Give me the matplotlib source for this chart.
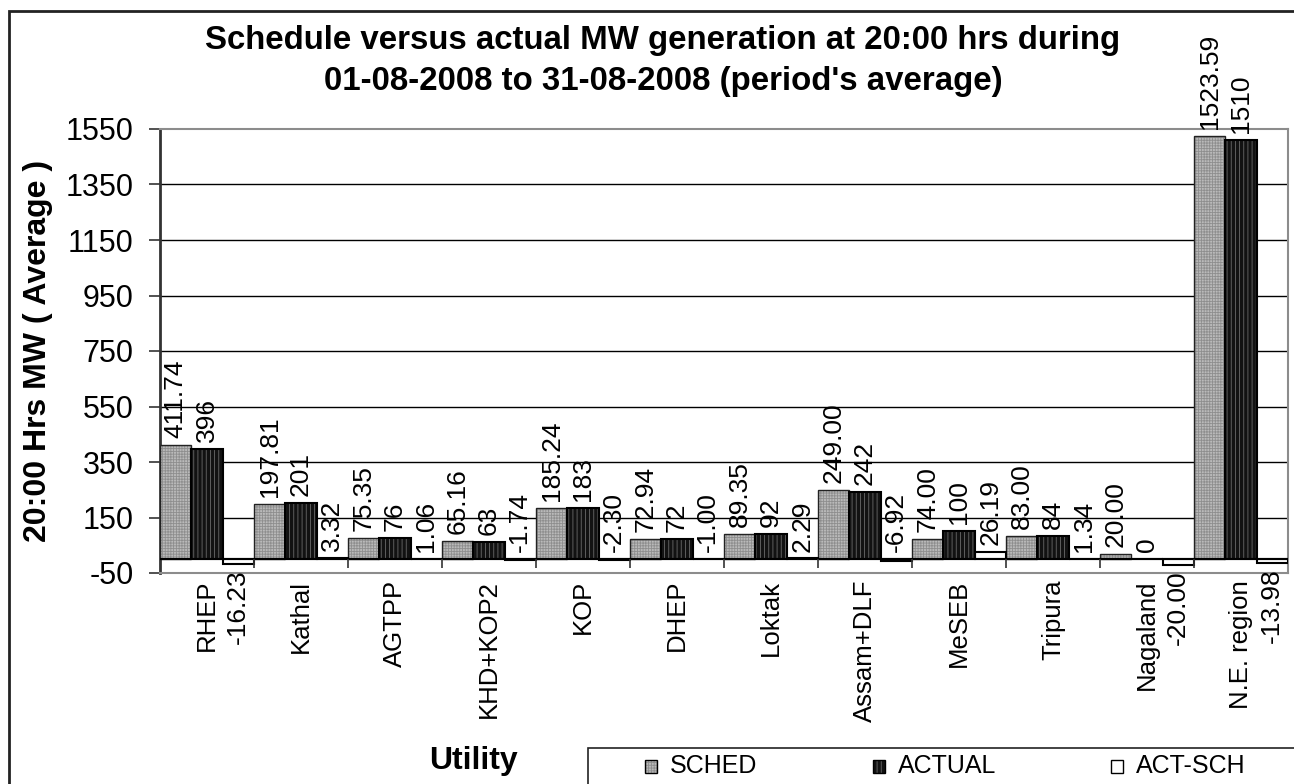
import numpy as np
import matplotlib
matplotlib.use("Agg")
import matplotlib.pyplot as plt
from matplotlib.patches import Rectangle

# ---------------------------------------------------------
# data
# ---------------------------------------------------------
CATEGORIES = ["RHEP", "Kathal", "AGTPP", "KHD+KOP2", "KOP", "DHEP", "Loktak",
              "Assam+DLF", "MeSEB", "Tripura", "Nagaland", "N.E. region"]
SCHED = [411.74, 197.81, 75.35, 65.16, 185.24, 72.94, 89.35, 249.00, 74.00, 83.00, 20.00, 1523.59]
ACTUAL = [396, 201, 76, 63, 183, 72, 92, 242, 100, 84, 0, 1510]
ACT_SCH = [-16.23, 3.32, 1.06, -1.74, -2.30, -1.00, 2.29, -6.92, 26.19, 1.34, -20.00, -13.98]
SERIES_NAMES = ["SCHED", "ACTUAL", "ACT-SCH"]
Y_TICKS = [-50, 150, 350, 550, 750, 950, 1150, 1350, 1550]

TITLE_1 = "Schedule versus actual MW generation at 20:00 hrs during"
TITLE_2 = "01-08-2008 to 31-08-2008 (period's average)"
Y_LABEL = "20:00 Hrs MW ( Average )"
X_LABEL = "Utility"

# ---------------------------------------------------------
# style
# ---------------------------------------------------------
plt.rcParams.update({
    "font.family": ["Liberation Sans", "DejaVu Sans"],
    "hatch.linewidth": 0.6,
    "axes.unicode_minus": False,
})

W, H = 1294, 784
STYLES = [
    dict(face="#bababa", hatch="++++++", hcolor="#8e8e8e", edge="#222222", lw=1.0),
    dict(face="#121212", hatch="||||", hcolor="#6a6a6a", edge="#000000", lw=1.5),
    dict(face="#ffffff", hatch=None, hcolor="#000000", edge="#000000", lw=1.5),
]
LABEL_SIZE = 19


def px(x, y):
    """pixel coords (top-left origin) -> figure fraction"""
    return x / W, 1 - y / H


def draw_bars(ax, x, vals, st):
    ax.bar(x, vals, width=1 / 3, color=st["face"], hatch=st["hatch"],
           edgecolor=st["hcolor"], linewidth=0, zorder=3)
    ax.bar(x, vals, width=1 / 3, fill=False, edgecolor=st["edge"],
           linewidth=st["lw"], zorder=4)


def label_bars(ax, x, vals, fmt):
    for xi, v in zip(x, vals):
        if v >= 0 or abs(v) < 10:
            ax.annotate(fmt.format(v), xy=(xi, max(v, 0)), xytext=(0, 5),
                        textcoords="offset points", rotation=90,
                        ha="center", va="bottom", fontsize=LABEL_SIZE, zorder=6)
        else:
            ax.annotate(fmt.format(v), xy=(xi, v), xytext=(0, -4),
                        textcoords="offset points", rotation=90,
                        ha="center", va="top", fontsize=LABEL_SIZE, zorder=6,
                        annotation_clip=False)


fig = plt.figure(figsize=(W / 100, H / 100), dpi=100)
l, b = px(160, 573)
r, t = px(1288, 129)
ax = fig.add_axes([l, b, r - l, t - b])

idx = np.arange(len(CATEGORIES))
offsets = [-1 / 3, 0, 1 / 3]
series = [SCHED, ACTUAL, ACT_SCH]
fmts = ["{:.2f}", "{:.0f}", "{:.2f}"]

for vals, off, st, fmt in zip(series, offsets, STYLES, fmts):
    draw_bars(ax, idx + off, vals, st)
    label_bars(ax, idx + off, vals, fmt)

ax.set_xlim(-0.5, len(CATEGORIES) - 0.5)
ax.set_ylim(-50, 1550)
ax.set_yticks(Y_TICKS)
ax.tick_params(axis="y", labelsize=22, length=8, width=1.2, pad=11, color="#333333")
ax.set_xticks(idx)
ax.set_xticklabels(CATEGORIES, rotation=90, fontsize=18.5)
ax.tick_params(axis="x", length=0, pad=5)

# gridlines + zero axis
for yv in Y_TICKS[1:-1]:
    ax.axhline(yv, color="black", lw=1.0, zorder=1)
ax.axhline(0, color="black", lw=1.5, zorder=5)
# category separators on the zero line
ax.vlines(idx[1:] - 0.5, -32, 0, color="#333333", lw=1.2, zorder=5)

for side in ["top", "right", "bottom"]:
    ax.spines[side].set_color("#8c8c8c")
    ax.spines[side].set_linewidth(1.5)
ax.spines["left"].set_color("#333333")
ax.spines["left"].set_linewidth(2)

# titles / axis labels
fig.text(*px(663, 49), TITLE_1, ha="center", va="baseline", fontsize=23.8, fontweight="bold")
fig.text(*px(663, 90), TITLE_2, ha="center", va="baseline", fontsize=23.8, fontweight="bold")
fig.text(*px(38, 351), Y_LABEL, rotation=90, ha="center", va="center",
         fontsize=23, fontweight="bold")
fig.text(*px(473, 769), X_LABEL, ha="center", va="baseline", fontsize=23, fontweight="bold")

# outer chart frame (cut by the image edge at right and bottom)
fx, fy = px(9, 11)
fig.patches.append(Rectangle((fx, -0.2), 1.5, fy + 0.2, transform=fig.transFigure,
                             fill=False, edgecolor="#222222", lw=2))

# legend box and entries
lx, ly = px(588, 748)
fig.patches.append(Rectangle((lx, -0.2), 1.0, ly + 0.2, transform=fig.transFigure,
                             fill=False, edgecolor="#222222", lw=1.2))
for name, st, mx in zip(SERIES_NAMES, STYLES, [645, 873, 1111]):
    x0, y0 = px(mx, 773)
    sw, sh = 12 / W, 13 / H
    fig.patches.append(Rectangle((x0, y0), sw, sh, transform=fig.transFigure,
                                 facecolor=st["face"], hatch=st["hatch"],
                                 edgecolor=st["hcolor"], lw=0))
    fig.patches.append(Rectangle((x0, y0), sw, sh, transform=fig.transFigure,
                                 fill=False, edgecolor="black", lw=1.0))
    fig.text(*px(mx + 25, 773), name, ha="left", va="baseline", fontsize=18)

fig.savefig("out.png", dpi=100)
